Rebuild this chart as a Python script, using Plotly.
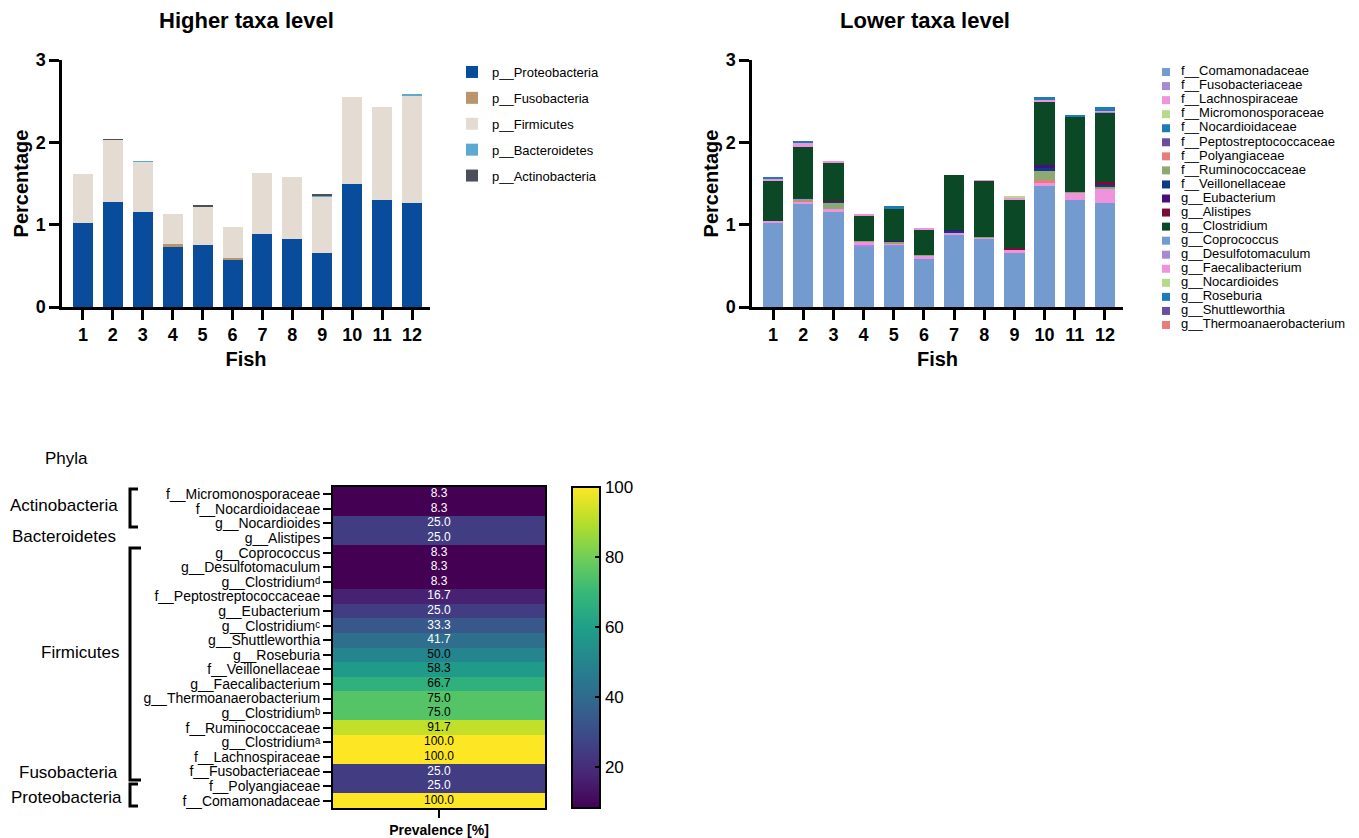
import plotly.graph_objects as go

W, H = 1359, 838
FONT = "Liberation Sans, Arial, Helvetica, sans-serif"

def px_x(p):
    return p / W

def px_y(p):
    return 1 - p / H

# ---------------- data ----------------
fish = list(range(1, 13))

# Higher taxa level (phyla)
phyla_names = ["p__Proteobacteria", "p__Fusobacteria", "p__Firmicutes",
               "p__Bacteroidetes", "p__Actinobacteria"]
proteobacteria = [1.02, 1.27, 1.156, 0.73, 0.75, 0.58, 0.885, 0.823, 0.653, 1.49, 1.30, 1.265]
fusobacteria = [0, 0, 0, 0.03, 0, 0.015, 0, 0, 0, 0, 0, 0]
firmicutes = [0.59, 0.762, 0.606, 0.37, 0.465, 0.371, 0.745, 0.755, 0.694, 1.065, 1.126, 1.30]
bacteroidetes = [0, 0, 0.01, 0, 0, 0, 0, 0, 0.01, 0, 0, 0.02]
actinobacteria = [0, 0.008, 0, 0, 0.015, 0, 0, 0, 0.01, 0, 0, 0]
phyla_values = [proteobacteria, fusobacteria, firmicutes, bacteroidetes, actinobacteria]
phyla_colors = ["#0A4C9C", "#B8966B", "#E4DCD3", "#5EA9D1", "#4B5058"]

# Lower taxa level (families / genera)
lower_names = ["f__Comamonadaceae", "f__Fusobacteriaceae", "f__Lachnospiraceae",
               "f__Micromonosporaceae", "f__Nocardioidaceae", "f__Peptostreptococcaceae",
               "f__Polyangiaceae", "f__Ruminococcaceae", "f__Veillonellaceae",
               "g__Eubacterium", "g__Alistipes", "g__Clostridium", "g__Coprococcus",
               "g__Desulfotomaculum", "g__Faecalibacterium", "g__Nocardioides",
               "g__Roseburia", "g__Shuttleworthia", "g__Thermoanaerobacterium"]
comamonadaceae = [1.02, 1.253, 1.156, 0.738, 0.747, 0.588, 0.88, 0.823, 0.65, 1.468, 1.298, 1.265]
fusobacteriaceae = [0, 0, 0, 0.02, 0.01, 0, 0, 0, 0, 0, 0, 0]
lachnospiraceae = [0.025, 0.025, 0.04, 0.035, 0.01, 0.04, 0.025, 0.025, 0.048, 0.05, 0.09, 0.163]
micromonosporaceae = [0, 0, 0, 0, 0, 0, 0, 0, 0, 0, 0, 0]
nocardioidaceae = [0, 0, 0, 0, 0, 0, 0, 0, 0, 0, 0, 0]
peptostreptococcaceae = [0, 0, 0, 0, 0.004, 0, 0, 0, 0, 0, 0, 0]
polyangiaceae = [0, 0.015, 0, 0, 0, 0, 0, 0, 0, 0.02, 0, 0]
ruminococcaceae = [0.005, 0.02, 0.07, 0.005, 0.02, 0.005, 0.005, 0.005, 0.005, 0.11, 0.01, 0.025]
veillonellaceae = [0, 0.01, 0.01, 0, 0.01, 0, 0.015, 0, 0, 0.04, 0, 0.03]
eubacterium = [0, 0, 0.005, 0, 0.005, 0, 0.01, 0, 0, 0.035, 0, 0]
alistipes = [0, 0, 0.01, 0, 0, 0, 0, 0, 0.012, 0, 0, 0.03]
clostridium = [0.48, 0.624, 0.453, 0.317, 0.388, 0.307, 0.671, 0.684, 0.595, 0.764, 0.912, 0.847]
coprococcus = [0, 0, 0, 0, 0, 0, 0, 0, 0, 0, 0, 0]
desulfotomaculum = [0, 0, 0, 0, 0, 0, 0, 0, 0, 0, 0, 0.01]
faecalibacterium = [0.025, 0.045, 0.025, 0.01, 0, 0.01, 0, 0.005, 0.015, 0.028, 0, 0.01]
nocardioides = [0, 0, 0, 0, 0, 0, 0, 0, 0.015, 0, 0, 0]
roseburia = [0.025, 0.03, 0, 0, 0.03, 0, 0, 0, 0, 0.035, 0.015, 0.045]
shuttleworthia = [0, 0, 0, 0, 0, 0, 0, 0, 0, 0, 0, 0]
thermoanaerobacterium = [0, 0, 0, 0, 0, 0, 0, 0, 0, 0, 0, 0]
lower_values = [comamonadaceae, fusobacteriaceae, lachnospiraceae, micromonosporaceae,
                nocardioidaceae, peptostreptococcaceae, polyangiaceae, ruminococcaceae,
                veillonellaceae, eubacterium, alistipes, clostridium, coprococcus,
                desulfotomaculum, faecalibacterium, nocardioides, roseburia,
                shuttleworthia, thermoanaerobacterium]
lower_colors = ["#739BD0", "#A68BD4", "#EE93DC", "#B6D98C", "#1F7BB5", "#6B4D9D",
                "#E87C7B", "#8DA873", "#0D3B85", "#4A0D7D", "#7D0B37", "#0B4826",
                "#739BD0", "#A68BD4", "#EE93DC", "#B6D98C", "#1F7BB5", "#6B4D9D",
                "#E87C7B"]

# Prevalence heatmap
taxa_labels = ["f__Micromonosporaceae", "f__Nocardioidaceae", "g__Nocardioides",
               "g__Alistipes", "g__Coprococcus", "g__Desulfotomaculum",
               "g__Clostridiumᵈ", "f__Peptostreptococcaceae", "g__Eubacterium",
               "g__Clostridiumᶜ", "g__Shuttleworthia", "g__Roseburia",
               "f__Veillonellaceae", "g__Faecalibacterium", "g__Thermoanaerobacterium",
               "g__Clostridiumᵇ", "f__Ruminococcaceae", "g__Clostridiumᵃ",
               "f__Lachnospiraceae", "f__Fusobacteriaceae", "f__Polyangiaceae",
               "f__Comamonadaceae"]
prevalence = [8.3, 8.3, 25.0, 25.0, 8.3, 8.3, 8.3, 16.7, 25.0, 33.3, 41.7, 50.0,
              58.3, 66.7, 75.0, 75.0, 91.7, 100.0, 100.0, 25.0, 25.0, 100.0]
phyla_groups = ["Actinobacteria", "Bacteroidetes", "Firmicutes", "Fusobacteria", "Proteobacteria"]
colorbar_ticks = [20, 40, 60, 80, 100]

# ---------------- figure ----------------
fig = go.Figure()

for name, vals, col in zip(phyla_names, phyla_values, phyla_colors):
    fig.add_trace(go.Bar(x=fish, y=vals, name=name, marker=dict(color=col, line=dict(width=0)),
                         xaxis="x", yaxis="y", legend="legend", legendgroup=name))

for name, vals, col in zip(lower_names, lower_values, lower_colors):
    fig.add_trace(go.Bar(x=fish, y=vals, name=name, marker=dict(color=col, line=dict(width=0)),
                         xaxis="x2", yaxis="y2", showlegend=False))

# compact legend for the lower-taxa chart
idx = list(range(len(lower_names)))
fig.add_trace(go.Scatter(x=[1166] * len(idx), y=idx, mode="markers",
                         marker=dict(symbol="square", size=8, color=lower_colors, line=dict(width=0)),
                         xaxis="x4", yaxis="y4", showlegend=False, hoverinfo="skip"))
fig.add_trace(go.Scatter(x=[1181] * len(idx), y=idx, mode="text", text=lower_names,
                         textposition="middle right",
                         textfont=dict(family=FONT, size=13, color="black"),
                         xaxis="x4", yaxis="y4", showlegend=False, hoverinfo="skip"))

# heatmap
n_rows = len(taxa_labels)
fig.add_trace(go.Heatmap(
    x=[0], y=taxa_labels, z=[[v] for v in prevalence],
    colorscale="Viridis", zmin=8.3, zmax=100, xaxis="x3", yaxis="y3",
    colorbar=dict(x=px_x(572), xanchor="left", xref="paper", xpad=0, ypad=0,
                  y=px_y((487 + 808) / 2), yanchor="middle", len=321, lenmode="pixels",
                  thickness=28, outlinewidth=2, outlinecolor="black",
                  tickvals=colorbar_ticks, ticks="inside", ticklen=6, tickwidth=2,
                  tickcolor="black", tickfont=dict(family=FONT, size=17, color="black")),
    hoverinfo="skip"))
fig.add_trace(go.Scatter(
    x=[0] * len(prevalence), y=taxa_labels, mode="text",
    text=[f"{v:.1f}" for v in prevalence],
    textfont=dict(family=FONT, size=12, color=["white" if v < 45 else "black" for v in prevalence]),
    xaxis="x3", yaxis="y3", showlegend=False, hoverinfo="skip"))

axis_common = dict(showline=True, linecolor="black", linewidth=2.5, ticks="outside",
                   ticklen=10, tickwidth=2.5, tickcolor="black", showgrid=False, zeroline=False)
tickf = dict(family=FONT, size=18, color="black", weight="bold")
titlef = dict(family=FONT, size=20, color="black", weight="bold")

fig.update_layout(
    width=W, height=H, template="none", barmode="stack", bargap=0.33,
    paper_bgcolor="white", plot_bgcolor="white",
    margin=dict(l=0, r=0, t=0, b=0),
    font=dict(family=FONT, color="black"),
    xaxis=dict(domain=[px_x(62), px_x(430)], range=[0.3, 12.6], tickvals=fish,
               tickfont=tickf, title=dict(text="Fish", font=titlef, standoff=8),
               anchor="y", **axis_common),
    yaxis=dict(domain=[px_y(307), px_y(60)], range=[0, 3], tickvals=[0, 1, 2, 3],
               tickfont=tickf, title=dict(text="Percentage", font=titlef, standoff=2),
               anchor="x", **axis_common),
    xaxis2=dict(domain=[px_x(752), px_x(1123)], range=[0.3, 12.6], tickvals=fish,
                tickfont=tickf, title=dict(text="Fish", font=titlef, standoff=8),
                anchor="y2", **axis_common),
    yaxis2=dict(domain=[px_y(307), px_y(60)], range=[0, 3], tickvals=[0, 1, 2, 3],
                tickfont=tickf, title=dict(text="Percentage", font=titlef, standoff=2),
                anchor="x2", **axis_common),
    xaxis3=dict(domain=[px_x(333), px_x(545)], range=[-0.5, 0.5], tickvals=[0],
                ticktext=["<b>Prevalence [%]</b>"], tickfont=dict(family=FONT, size=14, color="black"),
                showline=True, mirror=True, linecolor="black", linewidth=2, ticks="outside",
                ticklen=8, tickwidth=2, tickcolor="black", showgrid=False, zeroline=False,
                anchor="y3"),
    yaxis3=dict(domain=[px_y(808), px_y(487)], type="category", categoryorder="array",
                categoryarray=taxa_labels, range=[n_rows - 0.5, -0.5],
                tickmode="array", tickvals=taxa_labels, ticktext=taxa_labels,
                tickfont=dict(family=FONT, size=14, color="black"),
                showline=True, mirror=True, linecolor="black", linewidth=2, ticks="outside",
                ticklen=8, tickwidth=2, tickcolor="black", showgrid=False, zeroline=False,
                anchor="x3"),
    xaxis4=dict(domain=[px_x(1155), 1], range=[1155, 1359], visible=False, anchor="y4"),
    yaxis4=dict(domain=[px_y(332), px_y(65)], range=[18.5, -0.5], visible=False, anchor="x4"),
    legend=dict(x=px_x(452), y=px_y(57), xanchor="left", yanchor="top",
                traceorder="grouped", tracegroupgap=6, bgcolor="rgba(0,0,0,0)",
                font=dict(family=FONT, size=13, color="black")),
)

annotations = [
    dict(text="<b>Higher taxa level</b>", x=px_x(246), y=px_y(20), font=dict(size=22)),
    dict(text="<b>Lower taxa level</b>", x=px_x(925), y=px_y(20), font=dict(size=22)),
    dict(text="Phyla", x=px_x(66), y=px_y(458), font=dict(size=17)),
]
phyla_pos = [(64, 505), (64, 536), (80, 652), (68, 772), (66, 797)]
for g, (xp, yp) in zip(phyla_groups, phyla_pos):
    annotations.append(dict(text=g, x=px_x(xp), y=px_y(yp), font=dict(size=17)))
for a in annotations:
    a.update(xref="paper", yref="paper", showarrow=False, xanchor="center", yanchor="middle")
    a["font"].update(family=FONT, color="black")
fig.update_layout(annotations=annotations)

brackets = [(489, 527, 138), (548, 780, 141), (784, 806, 138)]
shapes = []
for top, bot, xr in brackets:
    path = (f"M {px_x(xr)},{px_y(top)} L {px_x(130)},{px_y(top)} "
            f"L {px_x(130)},{px_y(bot)} L {px_x(xr)},{px_y(bot)}")
    shapes.append(dict(type="path", path=path, xref="paper", yref="paper",
                       line=dict(color="black", width=3)))
fig.update_layout(shapes=shapes)

fig.write_html("out.html", config={"displayModeBar": False},
               post_script="document.body.style.margin='0';document.body.style.overflow='hidden';")
